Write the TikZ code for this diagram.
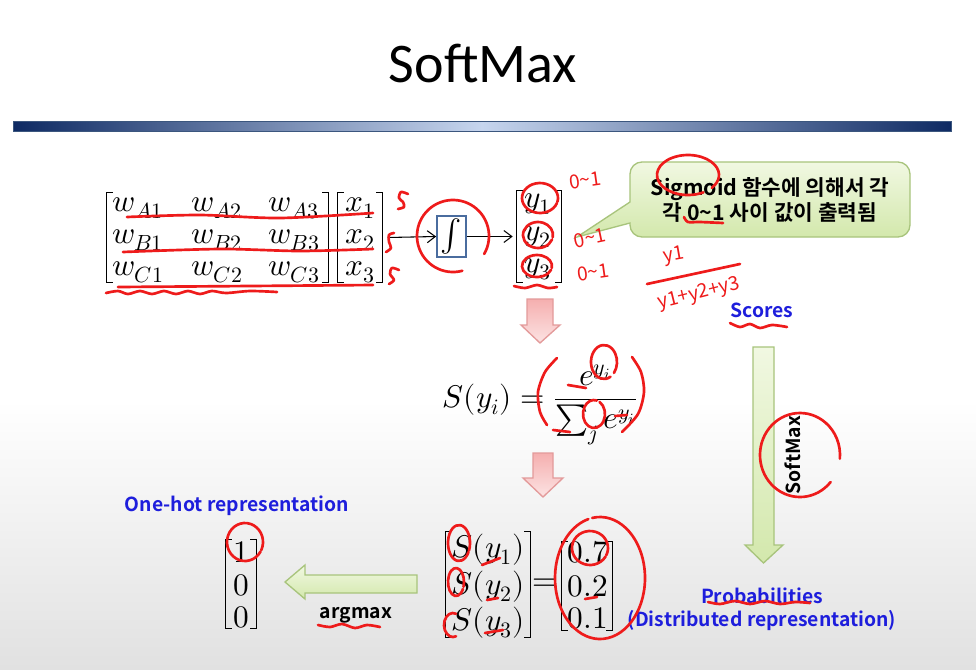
\documentclass[tikz,border=0pt]{standalone}
\usepackage{amsmath}
\usepackage{fontspec}
\usepackage{unicode-math}
\setmathfont{Latin Modern Math}
\newfontfamily\titlefont{Carlito}
\newfontfamily\kr{Noto Sans CJK KR}[BoldFont={Noto Sans CJK KR Bold}]
\usetikzlibrary{arrows.meta,fit}

\definecolor{inkred}{HTML}{EE1B1B}
\definecolor{labelblue}{HTML}{1E1EDC}
\definecolor{barnavy}{HTML}{0E2A63}
\definecolor{barlight}{HTML}{C6D5EE}
\definecolor{boxblue}{HTML}{4A6C9E}
\definecolor{bggray}{HTML}{E1E1E1}
\definecolor{pinkline}{HTML}{E39A9A}
\definecolor{pinktop}{HTML}{F5AFAF}
\definecolor{pinkbot}{HTML}{FCE3E3}
\definecolor{greenline}{HTML}{A8C47C}
\definecolor{greentop}{HTML}{F1F8E2}
\definecolor{greenbot}{HTML}{D3E8AC}

% open hand-drawn loop: centre x, centre y, x radius, y radius, start, end
\newcommand\inkloop[6]{\draw[ink] (#1,#2) ++(#5:#3 and #4)
  arc[start angle=#5, end angle=#6, x radius=#3, y radius=#4];}
% square brackets around a fitted region node
\newcommand\bracketsof[1]{%
  \draw[brk] ([xshift=4.5pt]#1.north west) -- (#1.north west) -- (#1.south west) -- ([xshift=4.5pt]#1.south west);
  \draw[brk] ([xshift=-4.5pt]#1.north east) -- (#1.north east) -- (#1.south east) -- ([xshift=-4.5pt]#1.south east);}

\begin{document}
\begin{tikzpicture}[x=0.75pt,y=-0.75pt,
  brk/.style={line width=1.1pt},
  mth/.style={font=\fontsize{23.5}{27}\selectfont, inner sep=0pt, anchor=base},
  ink/.style={draw=inkred, line width=2pt, line cap=round, line join=round},
  inktext/.style={text=inkred, font=\kr\fontsize{14.5}{14.5}\selectfont, inner sep=0pt},
  bluelabel/.style={text=labelblue, font=\kr\bfseries\fontsize{14.5}{17.5}\selectfont, inner sep=0pt},
  blacklabel/.style={text=black, font=\kr\bfseries\fontsize{14.5}{17}\selectfont, inner sep=0pt},
  flow/.style={-{Straight Barb[length=6pt,width=9pt]}, line width=0.8pt},
  pinkarrow/.style={draw=pinkline, line width=1pt, top color=pinktop, bottom color=pinkbot},
  greenarrow/.style={draw=greenline, line width=1pt, top color=greentop, bottom color=greenbot},
  region/.style={inner sep=0pt}
]
\useasboundingbox (0,0) rectangle (976,669);

% background
\fill[white] (0,0) rectangle (976,669);
\shade[top color=white, bottom color=bggray] (0,400) rectangle (976,669);

% title and rule
\node[font=\titlefont\fontsize{42}{46}\selectfont, anchor=base, inner sep=0pt] (title) at (483,82) {SoftMax};
\shade[left color=barnavy, right color=barnavy, middle color=barlight] (13,121) rectangle (951,131);
\draw[boxblue!80!black, line width=0.6pt] (13,121) rectangle (951,131);

% weight matrix and input vector
\foreach \r/\y in {A/211,B/243,C/275} {
  \node[mth] (w\r1) at (138,\y) {$w_{\r1}$};
  \node[mth] (w\r2) at (217,\y) {$w_{\r2}$};
  \node[mth] (w\r3) at (294,\y) {$w_{\r3}$};
}
\foreach \i/\y in {1/211,2/243,3/275} \node[mth] (x\i) at (360,\y) {$x_\i$};
\node[region, fit={(107,193) (328,282)}] (W) {};
\node[region, fit={(338,193) (382,282)}] (xv) {};
\bracketsof{W}
\bracketsof{xv}

% sigmoid block
\node[draw=boxblue, line width=1.3pt, fill=white, minimum width=21.75pt, minimum height=30.75pt, inner sep=0pt]
  (sig) at (451.5,236.5) {\fontsize{24}{24}\selectfont$\int$};

% output vector y
\foreach \i/\y in {1/207,2/240,3/272} \node[mth] (y\i) at (538,\y) {$y_\i$};
\node[region, fit={(517,191) (561,282)}] (yv) {};
\bracketsof{yv}

\draw[flow] ([xshift=4pt]xv.east) -- (sig.west);
\draw[flow, shorten >=3pt] (sig.east) -- (yv.west);

% callout
\path[draw=greenline, line width=1pt, top color=greentop, bottom color=greenbot]
  (630,202) [rounded corners=9pt] -- (630,162) -- (910,162) -- (910,237) -- (630,237)
  [sharp corners] -- (630,223) -- (577,237) -- cycle;
\node[font=\kr\bfseries\fontsize{16}{19}\selectfont, align=center, inner sep=0pt] (note) at (770,200)
  {Sigmoid 함수에 의해서 각\\각 0\textasciitilde1 사이 값이 출력됨};

% scores label and softmax arrow
\node[bluelabel] (scores) at (762,310) {Scores};
\path[greenarrow] (753,347) -- (774,347) -- (774,545) -- (783,545) -- (763.5,563) -- (745,545) -- (753,545) -- cycle;
\node[blacklabel, rotate=90] (smx) at (793,455) {SoftMax};
\node[bluelabel, align=center] (prob) at (762,609) {Probabilities\\(Distributed representation)};

% pink arrows and formula
\path[pinkarrow] (527,299) -- (553,299) -- (553,325) -- (560,325) -- (540,343) -- (521,325) -- (527,325) -- cycle;
\node[mth] (eq) at (540,407) {$S(y_i)=\dfrac{e^{y_i}}{\sum_j e^{y_i}}$};
\path[pinkarrow] (533,453) -- (553,453) -- (553,478) -- (563,478) -- (543,497) -- (523,478) -- (533,478) -- cycle;

% softmax outputs
\foreach \i/\y in {1/557,2/594,3/630} \node[mth] (s\i) at (488,\y) {$S(y_\i)$};
\node[region, fit={(446,532) (530,637)}] (Sv) {};
\bracketsof{Sv}
\node[mth, anchor=center] (eqsign) at (545,585) {$=$};
\foreach \i/\v/\y in {1/0.7/562,2/0.2/596,3/0.1/628} \node[mth] (p\i) at (588,\y) {$\v$};
\node[region, fit={(562,542) (612,630)}] (Pv) {};
\bracketsof{Pv}

% argmax arrow and one-hot vector
\path[greenarrow] (417,575) -- (417,593) -- (305,593) -- (305,599) -- (285,582) -- (305,565) -- (305,575) -- cycle;
\node[blacklabel] (argmax) at (356,615) {argmax};
\node[bluelabel] (onehot) at (237,506) {One-hot representation};
\foreach \i/\v/\y in {1/1/562,2/0/595,3/0/627} \node[mth] (o\i) at (241,\y) {$\v$};
\node[region, fit={(226,540) (256,628)}] (Ov) {};
\bracketsof{Ov}

% ---- red pen marks ----
\draw[ink] plot[smooth] coordinates {(127,217) (200,215) (280,218) (373,213)};
\draw[ink] plot[smooth] coordinates {(123,252) (220,249) (300,251) (373,249)};
\draw[ink] plot[smooth] coordinates {(118,287) (250,286) (373,285)};
\draw[ink] plot[smooth] coordinates {(106,293) (118,291) (128,294) (140,291) (152,294) (164,291) (176,294) (188,291) (200,294) (212,291) (226,293) (250,291) (277,292)};
\draw[ink] plot[smooth] coordinates {(408,194) (401,192) (399,198) (403,202) (404,207) (398,209)};
\draw[ink] plot[smooth] coordinates {(394,233) (389,235) (389,242) (391,248) (386,252)};
\draw[ink] plot[smooth] coordinates {(399,270) (392,268) (390,274) (394,280) (389,284)};
\inkloop{453}{236}{36}{36}{75}{390}
\inkloop{540}{198}{18}{15}{20}{375}
\inkloop{538}{235}{15}{13}{20}{370}
\inkloop{537}{266}{15}{11}{20}{370}
\draw[ink] plot[smooth] coordinates {(514,286) (525,288) (537,285) (548,288) (557,287)};
\node[inktext, rotate=8] (r1) at (585,180) {0\textasciitilde1};
\node[inktext, rotate=12] (r2) at (590,238) {0\textasciitilde1};
\node[inktext, rotate=8] (r3) at (593,272) {0\textasciitilde1};
\inkloop{688}{175}{31}{20}{60}{400}
\draw[ink] plot[smooth] coordinates {(684,217) (688,222) (700,222) (723,223)};
\node[inktext, rotate=10] (fn) at (674,256) {y1};
\draw[ink] (647,284) -- (740,264);
\node[inktext, rotate=14] (fd) at (699,294) {y1+y2+y3};
\draw[ink] plot[smooth] coordinates {(730,323) (740,327) (750,324) (760,328) (772,325) (787,327)};
\draw[ink] plot[smooth] coordinates {(557,358) (545,372) (538,392) (540,412) (547,425)};
\draw[ink] plot[smooth] coordinates {(632,357) (641,372) (644,392) (638,414) (622,432)};
\inkloop{604}{362}{13}{17}{60}{400}
\inkloop{594}{414}{11}{14}{-60}{285}
\draw[ink] (568,385) -- (586,388);
\draw[ink] (553,430) -- (570,432);
\draw[ink] (615,416) -- (627,415);
\inkloop{800}{455}{40}{42}{40}{365}
\draw[ink] plot[smooth] coordinates {(708,602) (720,604) (735,601) (750,604) (765,601) (780,604) (795,602) (810,603)};
\inkloop{245}{542}{18}{19}{30}{385}
\draw[ink] plot[smooth] coordinates {(318,625) (330,627) (342,624) (355,628) (367,625) (380,627)};
\inkloop{459}{543}{11}{18}{30}{385}
\inkloop{456}{582}{8}{14}{30}{380}
\inkloop{453}{625}{9}{12}{-70}{-290}
\draw[ink] (482,565) -- (500,558);
\draw[ink] (487,600) -- (498,598);
\draw[ink] (485,633) -- (503,630);
\inkloop{600}{578}{45}{61}{-100}{255}
\inkloop{590}{548}{18}{17}{30}{385}
\draw[ink] (585,599) -- (597,597);
\end{tikzpicture}
\end{document}
